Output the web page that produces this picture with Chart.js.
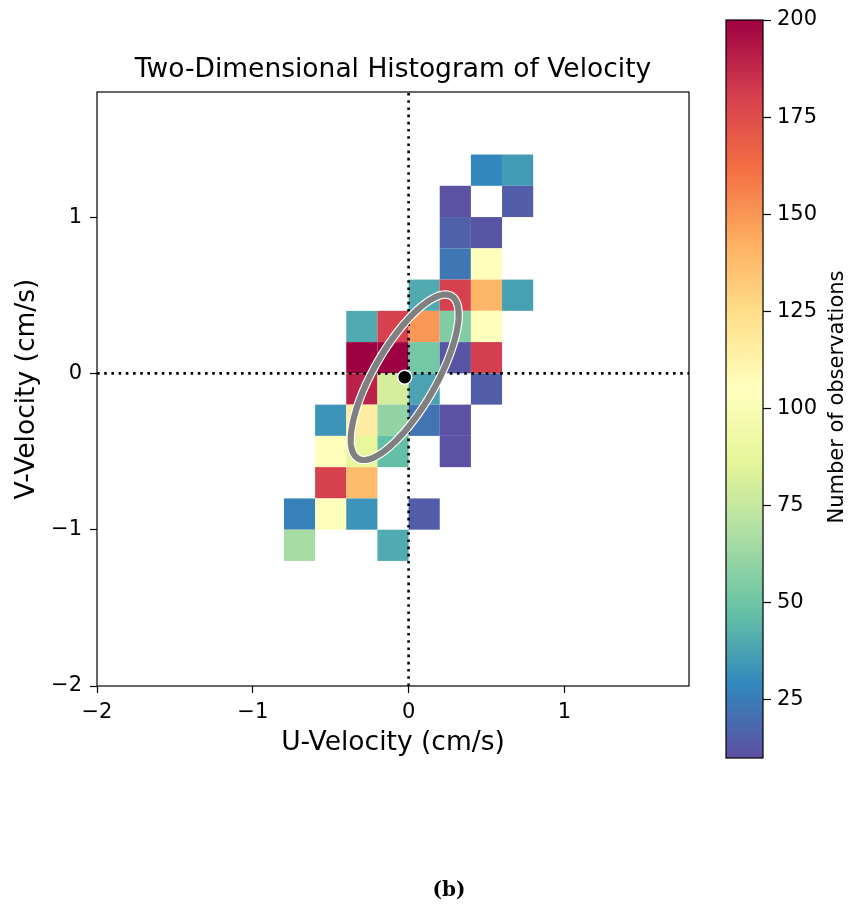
<!DOCTYPE html>
<html>
<head>
<meta charset="utf-8">
<script src="https://cdn.jsdelivr.net/npm/chart.js@4.4.1/dist/chart.umd.min.js"></script>
<style>
  html, body { margin: 0; padding: 0; background: #fff; }
  #wrap { position: relative; width: 850px; height: 906px; overflow: hidden; }
  #hist { position: absolute; left: 0; top: 0; }
  #cbar { position: absolute; left: 700px; top: 0; }
  #caption { position: absolute; top: 877px; left: 400px; width: 98px; text-align: center;
             font: bold 20px 'DejaVu Serif', serif; color: #000; }
</style>
</head>
<body>
<div id="wrap">
  <canvas id="hist" width="700" height="906"></canvas>
  <canvas id="cbar" width="150" height="780"></canvas>
  <div id="caption">(b)</div>
</div>
<script>
// histogram bins: lower-left corner of each 0.2 x 0.2 cell, and its count
const binWidth = 0.2;
const binU = [
  0.4, 0.6,
  0.2, 0.6,
  0.2, 0.4,
  0.2, 0.4,
  0.0, 0.2, 0.4, 0.6,
  -0.4, -0.2, 0.0, 0.2, 0.4,
  -0.4, -0.2, 0.0, 0.2, 0.4,
  -0.4, -0.2, 0.0, 0.4,
  -0.6, -0.4, -0.2, 0.0, 0.2,
  -0.6, -0.4, -0.2, 0.2,
  -0.6, -0.4,
  -0.8, -0.6, -0.4, 0.0,
  -0.8, -0.2
];
const binV = [
  1.2, 1.2,
  1.0, 1.0,
  0.8, 0.8,
  0.6, 0.6,
  0.4, 0.4, 0.4, 0.4,
  0.2, 0.2, 0.2, 0.2, 0.2,
  0.0, 0.0, 0.0, 0.0, 0.0,
  -0.2, -0.2, -0.2, -0.2,
  -0.4, -0.4, -0.4, -0.4, -0.4,
  -0.6, -0.6, -0.6, -0.6,
  -0.8, -0.8,
  -1.0, -1.0, -1.0, -1.0,
  -1.2, -1.2
];
const binCount = [
  29, 35,
  11, 15,
  16, 12,
  23, 104,
  40, 180, 140, 37,
  40, 180, 150, 55, 104,
  210, 210, 52, 12, 181,
  190, 80, 38, 15,
  33, 116, 60, 22, 11,
  104, 88, 47, 11,
  180, 138,
  27, 104, 33, 15,
  66, 40
];

const uTicks = [-2, -1, 0, 1];
const vTicks = [-2, -1, 0, 1];
const countTicks = [25, 50, 75, 100, 125, 150, 175, 200];
const countMin = 10, countMax = 200;

// mean velocity and its covariance ellipse
const meanU = -0.025, meanV = -0.025;
const ellipseMajor = 0.6, ellipseMinor = 0.2, ellipseAngle = 60;

// Spectral_r colour stops
const spectralR = ['#5e4fa2', '#3288bd', '#66c2a5', '#abdda4', '#e6f598', '#ffffbf',
                   '#fee08b', '#fdae61', '#f46d43', '#d53e4f', '#9e0142'];

function hexRgb(h) {
  return [parseInt(h.slice(1, 3), 16), parseInt(h.slice(3, 5), 16), parseInt(h.slice(5, 7), 16)];
}

function countColor(c) {
  let t = (c - countMin) / (countMax - countMin);
  t = Math.max(0, Math.min(1, t));
  const p = t * (spectralR.length - 1);
  const i = Math.min(Math.floor(p), spectralR.length - 2);
  const f = p - i;
  const a = hexRgb(spectralR[i]), b = hexRgb(spectralR[i + 1]);
  const m = a.map((v, k) => Math.round(v + (b[k] - v) * f));
  return `rgb(${m[0]},${m[1]},${m[2]})`;
}

const minusFmt = v => (v < 0 ? '\u2212' + Math.abs(v) : String(v));

Chart.defaults.font.family = "'DejaVu Sans', sans-serif";
Chart.defaults.color = '#000';

// draws the 2D histogram cells under the datasets
const cellPlugin = {
  id: 'cells',
  beforeDatasetsDraw(chart) {
    const { ctx, chartArea, scales: { x, y } } = chart;
    ctx.save();
    ctx.beginPath();
    ctx.rect(chartArea.left, chartArea.top, chartArea.width, chartArea.height);
    ctx.clip();
    binCount.forEach((c, i) => {
      const x0 = x.getPixelForValue(binU[i]);
      const x1 = x.getPixelForValue(binU[i] + binWidth);
      const y0 = y.getPixelForValue(binV[i]);
      const y1 = y.getPixelForValue(binV[i] + binWidth);
      ctx.fillStyle = countColor(c);
      ctx.fillRect(x0, y1, x1 - x0, y0 - y1);
    });
    ctx.restore();
  }
};

// covariance ellipse, drawn over the zero lines but under the mean point
const ellipsePlugin = {
  id: 'ellipse',
  afterDatasetDraw(chart, args) {
    if (args.index !== 1) return;
    const { ctx, scales: { x, y } } = chart;
    const phi = ellipseAngle * Math.PI / 180;
    const pts = [];
    for (let k = 0; k <= 180; k++) {
      const t = k / 180 * 2 * Math.PI;
      const du = ellipseMajor * Math.cos(t) * Math.cos(phi) - ellipseMinor * Math.sin(t) * Math.sin(phi);
      const dv = ellipseMajor * Math.cos(t) * Math.sin(phi) + ellipseMinor * Math.sin(t) * Math.cos(phi);
      pts.push([x.getPixelForValue(meanU + du), y.getPixelForValue(meanV + dv)]);
    }
    ctx.save();
    ctx.lineJoin = 'round';
    [['#ffffff', 8.5], ['#808080', 6.2]].forEach(([col, w]) => {
      ctx.beginPath();
      pts.forEach(([px, py], k) => (k ? ctx.lineTo(px, py) : ctx.moveTo(px, py)));
      ctx.closePath();
      ctx.strokeStyle = col;
      ctx.lineWidth = w;
      ctx.stroke();
    });
    ctx.restore();
  }
};

const framePlugin = {
  id: 'frame',
  afterDraw(chart) {
    const { ctx, chartArea: a } = chart;
    ctx.save();
    ctx.strokeStyle = '#000';
    ctx.lineWidth = 1.2;
    ctx.strokeRect(a.left, a.top, a.width, a.height);
    ctx.restore();
  }
};

new Chart(document.getElementById('hist').getContext('2d'), {
  type: 'scatter',
  data: {
    datasets: [
      {
        data: [{ x: meanU, y: meanV }],
        pointRadius: 7,
        backgroundColor: '#000',
        borderColor: '#fff',
        borderWidth: 1.5
      },
      {
        data: [{ x: 0, y: -2 }, { x: 0, y: 1.8 }],
        showLine: true,
        pointRadius: 0,
        borderColor: '#000',
        borderWidth: 2.6,
        borderDash: [2.6, 4.6]
      },
      {
        data: [{ x: -2, y: 0 }, { x: 1.8, y: 0 }],
        showLine: true,
        pointRadius: 0,
        borderColor: '#000',
        borderWidth: 2.6,
        borderDash: [2.6, 4.6]
      }
    ]
  },
  options: {
    responsive: false,
    animation: false,
    layout: { padding: { left: 0, top: 0, right: 11, bottom: 0 } },
    plugins: {
      legend: { display: false },
      tooltip: { enabled: false },
      title: {
        display: true,
        text: 'Two-Dimensional Histogram of Velocity',
        fullSize: false,
        color: '#000',
        font: { size: 26.5, weight: 'normal' },
        padding: { top: 54, bottom: 6.2 }
      }
    },
    scales: {
      x: {
        type: 'linear',
        min: -2,
        max: 1.8,
        afterBuildTicks: s => { s.ticks = uTicks.map(value => ({ value })); },
        afterFit: s => { s.height = 220; },
        ticks: { callback: minusFmt, font: { size: 21 }, padding: 7, maxRotation: 0 },
        grid: { drawOnChartArea: false, drawTicks: true, tickLength: 7, tickColor: '#000', tickWidth: 1.2 },
        border: { display: false },
        title: { display: true, text: 'U-Velocity (cm/s)', font: { size: 26.5 }, padding: { top: 0, bottom: 147 } }
      },
      y: {
        type: 'linear',
        min: -2,
        max: 1.8,
        afterBuildTicks: s => { s.ticks = vTicks.map(value => ({ value })); },
        afterFit: s => { s.width = 97; },
        ticks: { callback: minusFmt, font: { size: 21 }, padding: 8 },
        grid: { drawOnChartArea: false, drawTicks: true, tickLength: 7, tickColor: '#000', tickWidth: 1.2 },
        border: { display: false },
        title: { display: true, text: 'V-Velocity (cm/s)', font: { size: 26.5 }, padding: { top: 11, bottom: 0 } }
      }
    }
  },
  plugins: [cellPlugin, ellipsePlugin, framePlugin]
});

// colour bar: gradient laid out on its own count scale
const colorbarPlugin = {
  id: 'colorbar',
  beforeDatasetsDraw(chart) {
    const { ctx, chartArea: a, scales: { y } } = chart;
    const g = ctx.createLinearGradient(0, y.getPixelForValue(countMin), 0, y.getPixelForValue(countMax));
    spectralR.forEach((c, i) => g.addColorStop(i / (spectralR.length - 1), c));
    ctx.save();
    ctx.fillStyle = g;
    ctx.fillRect(a.left, a.top, a.width, a.height);
    ctx.strokeStyle = '#000';
    ctx.lineWidth = 1.2;
    ctx.strokeRect(a.left, a.top, a.width, a.height);
    // label reads bottom to top
    ctx.translate(138, (a.top + a.bottom) / 2 + 8);
    ctx.rotate(-Math.PI / 2);
    ctx.font = "21px 'DejaVu Sans', sans-serif";
    ctx.fillStyle = '#000';
    ctx.textAlign = 'center';
    ctx.textBaseline = 'middle';
    ctx.fillText('Number of observations', 0, 0);
    ctx.restore();
  }
};

new Chart(document.getElementById('cbar').getContext('2d'), {
  type: 'scatter',
  data: { datasets: [] },
  options: {
    responsive: false,
    animation: false,
    layout: { padding: { left: 26, top: 20, right: 0, bottom: 22 } },
    plugins: { legend: { display: false }, tooltip: { enabled: false } },
    scales: {
      x: { display: false },
      y: {
        type: 'linear',
        position: 'right',
        min: countMin,
        max: countMax,
        afterBuildTicks: s => { s.ticks = countTicks.map(value => ({ value })); },
        afterFit: s => { s.width = 87; },
        ticks: { font: { size: 21 }, padding: 6 },
        grid: { drawOnChartArea: false, drawTicks: true, tickLength: 8, tickColor: '#000', tickWidth: 1.2 },
        border: { display: false }
      }
    }
  },
  plugins: [colorbarPlugin]
});
</script>
</body>
</html>
